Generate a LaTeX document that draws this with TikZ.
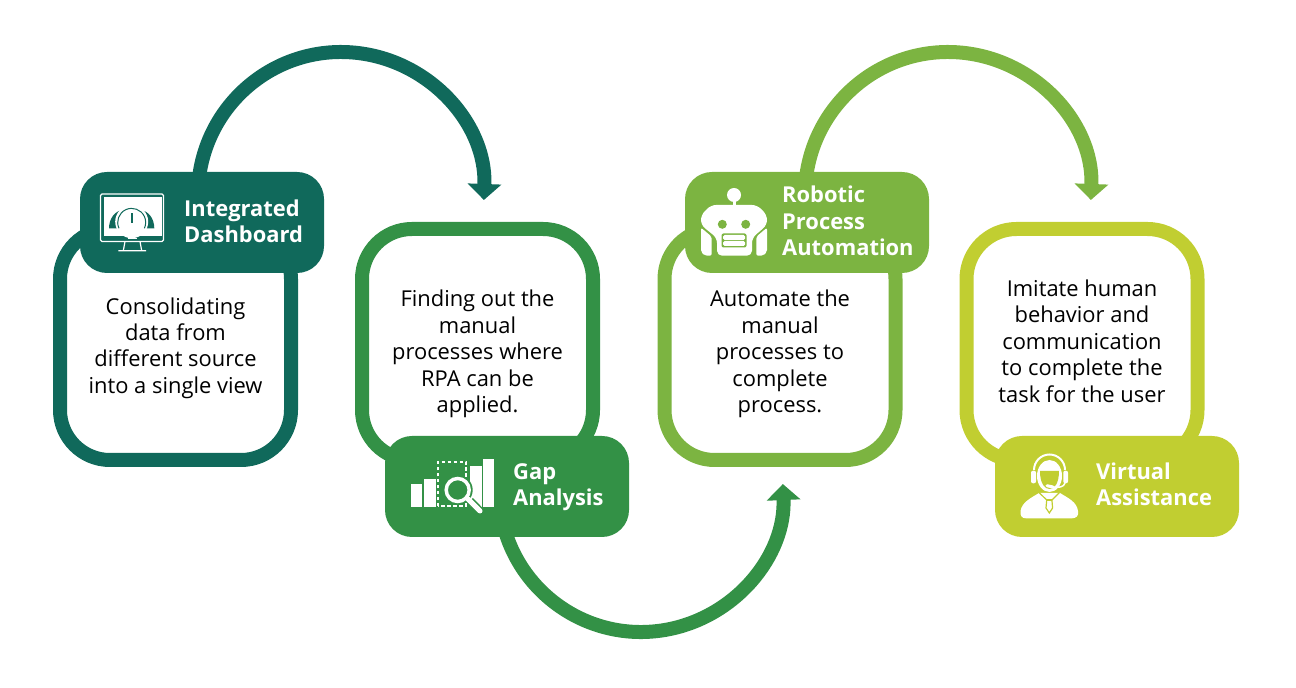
\documentclass[tikz,border=0pt]{standalone}
\usepackage{fontspec}
\setmainfont{Open Sans}
\usetikzlibrary{arrows.meta}
\definecolor{dteal}{HTML}{10695B}
\definecolor{dgreen}{HTML}{339146}
\definecolor{lgreen}{HTML}{7CB441}
\definecolor{lime}{HTML}{C1CE31}
\tikzset{
  x=1pt,y=1pt,
  cardbox/.style={draw=#1,fill=white,line width=14pt,rounded corners=50pt,minimum width=231pt,minimum height=231pt,inner sep=0pt},
  headbox/.style={fill=#1,rounded corners=27pt,minimum width=244pt,minimum height=101pt,inner sep=0pt,outer sep=0pt},
  flowline/.style={draw=#1,line width=14pt,-{Triangle[width=33pt,length=16pt]}},
  headtext/.style={text=white,font=\fontsize{21.9}{26.4}\selectfont\bfseries,align=left,anchor=west,inner sep=0pt},
  bodytext/.style={text=black,font=\fontsize{21.9}{26.4}\selectfont,align=center,inner sep=0pt}
}
\begin{document}
\begin{tikzpicture}

\useasboundingbox (0,0) rectangle (1296,688);

% 1. Cards
\node[cardbox=dteal] (card1) at (175.5,343.5) {};
\node[cardbox=dgreen] (card2) at (477.5,343.5) {};
\node[cardbox=lgreen] (card3) at (780,343.5) {};
\node[cardbox=lime] (card4) at (1082,343.5) {};

% 2. Curved connectors, drawn before the headers so the headers hide the start
\coordinate (c1) at (341,493);
\coordinate (c2) at (641,198);
\coordinate (c3) at (948,493);
\draw[flowline=dteal] (c1) ++(176:143) arc[start angle=176,end angle=-2,radius=143];
\draw[flowline=dgreen] (c2) ++(190:142) arc[start angle=190,end angle=362.4,radius=142];
\draw[flowline=lgreen] (c3) ++(176:143) arc[start angle=176,end angle=-2,radius=143];

% 3. Headers
\node[headbox=dteal] (head1) at (202,465.5) {};
\node[headbox=dgreen] (head2) at (507,201.5) {};
\node[headbox=lgreen] (head3) at (807,465.5) {};
\node[headbox=lime] (head4) at (1117,201.5) {};

% 4. Header titles
\node[headtext] (title1) at (184,467) {Integrated\\Dashboard};
\node[headtext] (title2) at (513,201) {Gap\\Analysis};
\node[headtext] (title3) at (782,467) {Robotic\\Process\\Automation};
\node[headtext] (title4) at (1096,203.5) {Virtual\\Assistance};

% 5. Card texts
\node[bodytext] (text1) at (175.5,340) {Consolidating\\data from\\different source\\into a single view};
\node[bodytext] (text2) at (477.5,334) {Finding out the\\manual\\processes where\\RPA can be\\applied.};
\node[bodytext] (text3) at (780,334) {Automate the\\manual\\processes to\\complete\\process.};
\node[bodytext] (text4) at (1082,347) {Imitate human\\behavior and\\communication\\to complete the\\task for the user};

% 6. Monitor icon
\draw[white,line width=1.2pt,rounded corners=1.5pt] (100.5,446.5) rectangle (163.5,494);
\fill[white] (103.5,452) rectangle (161.5,491.3);
\draw[white,line width=1.2pt] (128.3,449.5) -- (136.7,449.5);
\draw[white,line width=1.2pt] (125,446.5) -- (123.3,437.3) (140,446.5) -- (141.7,437.3) (118.3,437.3) -- (146,437.3);
\fill[dteal] (109,459.7) arc[start angle=180,end angle=0,x radius=14,y radius=18] -- cycle;
\fill[dteal] (126.3,459.7) arc[start angle=180,end angle=0,x radius=14,y radius=18] -- cycle;
\fill[white] (131.7,466.3) circle (16.5);
\fill[white] (117.3,452) rectangle (146,466);
\draw[dteal,line width=1pt] (119,459.7) arc[start angle=205,end angle=-25,radius=14];
\draw[dteal,line width=1.6pt] (131.7,474.7) -- (131.7,464.7);

% 7. Chart and magnifier icon
\fill[white] (410.7,180.7) rectangle (422.3,203.7);
\fill[white] (424.3,180.7) rectangle (436,208.7);
\fill[white] (470,180.7) rectangle (481.7,222);
\fill[white] (483.3,180.7) rectangle (494.3,229);
\draw[white,line width=2pt,dash pattern=on 3.5pt off 2.5pt] (438.3,181.7) rectangle (466,226.3);
\fill[dgreen] (457.7,198) circle (15);
\draw[dgreen,line width=8pt] (470,187.3) -- (480,177);
\draw[white,line width=3.5pt] (457.7,198) circle (11.5);
\draw[white,line width=5pt,line cap=round] (468,189) -- (480,177);

% 8. Robot icon
\fill[white] (734,493) circle (7);
\draw[white,line width=3pt] (734,493) -- (734,480);
\fill[white,rounded corners=5pt] (701,463) -- (701,473) -- (711,483) -- (757,483) -- (767,473) -- (767,463) -- (752,450) -- (752,432.3) -- (717,432.3) -- (717,450) -- cycle;
\fill[white,rounded corners=2pt] (701,460.3) -- (711.7,451.3) -- (711.7,432.3) -- (705,432.3) -- (701,436) -- cycle;
\fill[white,rounded corners=2pt] (767,460.3) -- (756.3,451.3) -- (756.3,432.3) -- (763,432.3) -- (767,436) -- cycle;
\fill[lgreen] (722.3,463.7) circle (4.5);
\fill[lgreen] (745.7,463.7) circle (4.5);
\fill[lgreen,rounded corners=2pt] (721.5,440.5) rectangle (746.5,454.5);
\fill[white,rounded corners=1.5pt] (723,448) rectangle (745,453);
\fill[white,rounded corners=1.5pt] (723,442) rectangle (745,447);

% 9. Headset icon
\draw[white,line width=2pt] (1065,218) arc[start angle=0,end angle=180,radius=15.5];
\fill[white,rounded corners=2pt] (1031,204.7) rectangle (1036,217.3);
\fill[white,rounded corners=2pt] (1063.3,204.7) rectangle (1068,217.3);
\fill[white] (1049.5,212) ellipse (12.5 and 16);
\fill[lime] (1040,217) -- (1059,217) .. controls (1059,204) and (1054,199) .. (1049.5,199) .. controls (1045,199) and (1040,204) .. (1040,217) -- cycle;
\draw[white,line width=1.5pt] (1065,205) .. controls (1064,201) and (1059,200) .. (1052,201);
\draw[white,line width=3pt,line cap=round] (1047,202.3) -- (1053,201);
\fill[white] (1026,169.7) -- (1072,169.7) .. controls (1076,169.7) and (1079,172) .. (1078,177) .. controls (1077,186) and (1068,190) .. (1060,195) -- (1039,195) .. controls (1031,190) and (1022,186) .. (1020.5,177) .. controls (1020,172) and (1022,169.7) .. (1026,169.7) -- cycle;
\draw[lime,line width=1.2pt] (1039,195.5) -- (1046.7,188) -- (1046,180) -- (1049.3,175) -- (1052.6,180) -- (1051.9,188) -- (1059.5,195.5);
\draw[lime,line width=1.2pt] (1046.7,188) -- (1051.9,188);

\end{tikzpicture}
\end{document}
